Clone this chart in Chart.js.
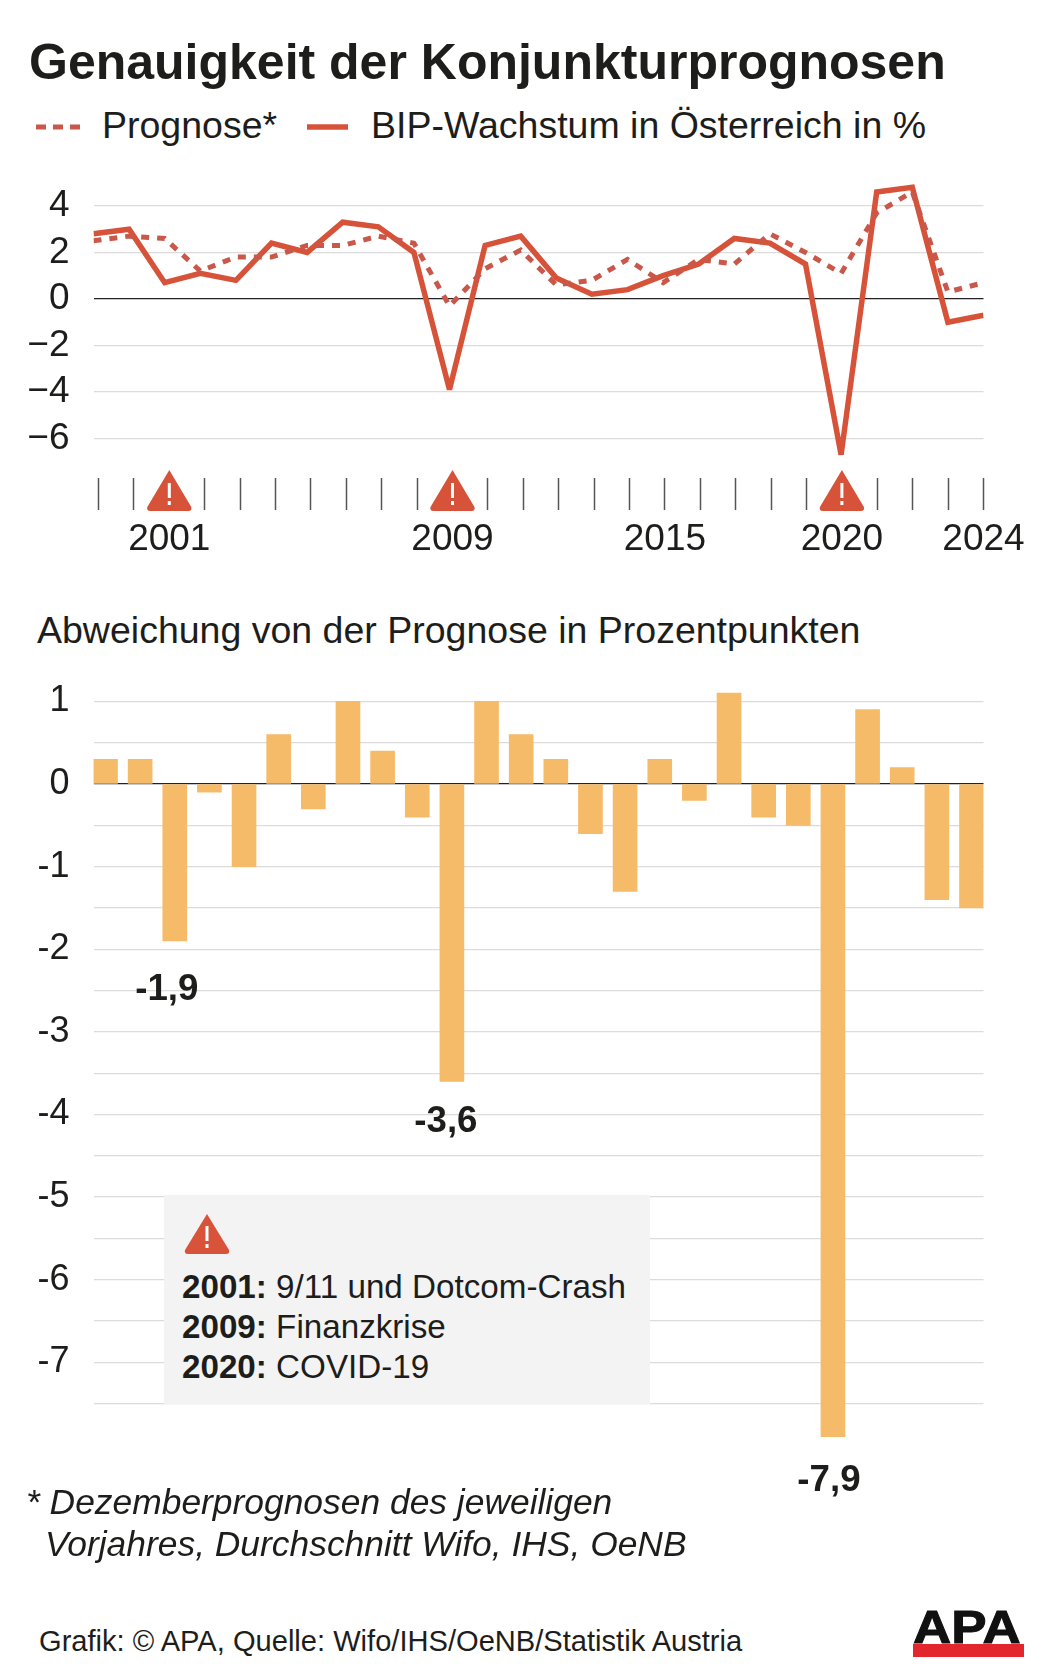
<!DOCTYPE html>
<html lang="de">
<head>
<meta charset="utf-8">
<title>Genauigkeit der Konjunkturprognosen</title>
<script src="https://cdn.jsdelivr.net/npm/chart.js@4/dist/chart.umd.min.js"></script>
<style>
  html, body { margin: 0; padding: 0; background: #fff; }
  body { position: relative; width: 1041px; height: 1670px; overflow: hidden; font-family: "Liberation Sans", Arial, sans-serif; color: #1d1d1b; }
  .t { position: absolute; white-space: nowrap; line-height: 1; }
  canvas { position: absolute; left: 0; }
  #infoBox { position: absolute; left: 164px; top: 1195px; width: 486px; height: 209px; background: #f3f3f3; }
  #infoBox svg { position: absolute; left: 20px; top: 18px; }
  #infoBox .lines { position: absolute; left: 18px; top: 72px; font-size: 33.2px; line-height: 40px; white-space: nowrap; }
  #logo { position: absolute; left: 913px; top: 1610px; width: 111px; height: 47px; }
  #logo .bar { position: absolute; left: 0; top: 34px; width: 111px; height: 13px; background: #e3262e; }
  #logo .txt { position: absolute; left: 0; top: -6px; font-size: 46px; line-height: 46px; font-weight: bold; color: #111; transform-origin: left top; transform: scaleX(1.15); -webkit-text-stroke: 1px #111; }
</style>
</head>
<body>
  <div class="t" style="left:29px;top:36.5px;font-size:50px;font-weight:bold">Genauigkeit der Konjunkturprognosen</div>

  <svg style="position:absolute;left:36px;top:120px" width="45" height="14"><line x1="0" y1="7" x2="45" y2="7" stroke="#c9584a" stroke-width="5" stroke-dasharray="10 7"/></svg>
  <div class="t" style="left:102px;top:107px;font-size:37.5px">Prognose*</div>
  <svg style="position:absolute;left:307px;top:120px" width="41" height="14"><line x1="0" y1="7" x2="41" y2="7" stroke="#d6533a" stroke-width="5.5"/></svg>
  <div class="t" style="left:371px;top:107px;font-size:37.5px">BIP-Wachstum in Österreich in %</div>

  <canvas id="growthChart" width="1041" height="570" style="top:0"></canvas>

  <div class="t" style="left:37px;top:612px;font-size:37.5px">Abweichung von der Prognose in Prozentpunkten</div>

  <canvas id="devChart" width="1041" height="900" style="top:600px"></canvas>

  <div id="infoBox">
    <svg width="46" height="42" viewBox="0 0 46 42"><path d="M23 1 L45 37 Q46 41 42 41 L4 41 Q0 41 1 37 Z" fill="#d9533a"/><rect x="21.5" y="13" width="3" height="15" fill="#fff"/><rect x="21.5" y="31" width="3" height="4" fill="#fff"/></svg>
    <div class="lines"><b>2001:</b> 9/11 und Dotcom-Crash<br><b>2009:</b> Finanzkrise<br><b>2020:</b> COVID-19</div>
  </div>

  <div class="t" style="left:26px;top:1485px;font-size:35.4px;font-style:italic">* Dezemberprognosen des jeweiligen</div>
  <div class="t" style="left:45px;top:1527px;font-size:35.4px;font-style:italic">Vorjahres, Durchschnitt Wifo, IHS, OeNB</div>
  <div class="t" style="left:39px;top:1627px;font-size:29.1px">Grafik: © APA, Quelle: Wifo/IHS/OeNB/Statistik Austria</div>

  <div id="logo"><div class="txt">APA</div><div class="bar"></div></div>

<script>
// Werte
const years = [1999, 2000, 2001, 2002, 2003, 2004, 2005, 2006, 2007, 2008, 2009, 2010, 2011, 2012, 2013, 2014, 2015, 2016, 2017, 2018, 2019, 2020, 2021, 2022, 2023, 2024];
const gdpGrowth = [2.8, 3.0, 0.7, 1.1, 0.8, 2.4, 2.0, 3.3, 3.1, 2.0, -3.9, 2.3, 2.7, 0.9, 0.2, 0.4, 1.0, 1.5, 2.6, 2.4, 1.5, -6.7, 4.6, 4.8, -1.0, -0.7];
const forecast = [2.5, 2.7, 2.6, 1.2, 1.8, 1.8, 2.3, 2.3, 2.7, 2.4, -0.3, 1.3, 2.1, 0.6, 0.8, 1.7, 0.7, 1.7, 1.5, 2.8, 2.0, 1.1, 3.7, 4.6, 0.3, 0.7];
const deviation = [0.3, 0.3, -1.9, -0.1, -1.0, 0.6, -0.3, 1.0, 0.4, -0.4, -3.6, 1.0, 0.6, 0.3, -0.6, -1.3, 0.3, -0.2, 1.1, -0.4, -0.5, -7.9, 0.9, 0.2, -1.4, -1.5];
const yearLabels = [2001, 2009, 2015, 2020, 2024];
const crisisYears = [2001, 2009, 2020];
const labelledYears = [2001, 2009, 2020];

const FONT = '"Liberation Sans", Arial, sans-serif';
const TEXT = '#1d1d1b';
const RED = '#d6533a';

function xy(values) {
    return values.map((v, i) => ({ x: years[i], y: v }));
}

function gridColor(ctx) {
    return ctx.tick.value === 0 ? '#222' : '#dcdcdc';
}

// Warndreiecke auf der Zeitachse
const warnIcons = {
    id: 'warnIcons',
    afterDraw(chart) {
        const c = chart.ctx;
        const scale = chart.scales.xTicks;
        crisisYears.forEach(year => {
            const x = scale.getPixelForValue(year);
            c.save();
            c.translate(x - 23, 470);
            c.fillStyle = RED;
            c.beginPath();
            c.moveTo(23, 0);
            c.lineTo(45, 37);
            c.quadraticCurveTo(46, 41, 42, 41);
            c.lineTo(4, 41);
            c.quadraticCurveTo(0, 41, 1, 37);
            c.closePath();
            c.fill();
            c.fillStyle = '#fff';
            c.fillRect(21.5, 13, 3, 15);
            c.fillRect(21.5, 31, 3, 4);
            c.restore();
        });
    }
};

// Spitzen der Linie nicht zu lang werden lassen
const lineJoins = {
    id: 'lineJoins',
    beforeDatasetsDraw(chart) {
        chart.ctx.miterLimit = 3;
    }
};

// Beschriftung der drei groessten Abweichungen
const barLabels = {
    id: 'barLabels',
    afterDatasetsDraw(chart) {
        const c = chart.ctx;
        const bars = chart.getDatasetMeta(0).data;
        const shift = { 2001: [-8, 59], 2009: [-6, 51], 2020: [-4, 54] };
        c.save();
        c.font = 'bold 36.7px ' + FONT;
        c.fillStyle = TEXT;
        c.textAlign = 'center';
        labelledYears.forEach(year => {
            const i = years.indexOf(year);
            const text = String(deviation[i]).replace('.', ',');
            c.fillText(text, bars[i].x + shift[year][0], bars[i].y + shift[year][1]);
        });
        c.restore();
    }
};

new Chart(document.getElementById('growthChart'), {
    type: 'line',
    plugins: [warnIcons, lineJoins],
    data: {
        datasets: [
            { label: 'BIP-Wachstum in Österreich in %', data: xy(gdpGrowth), xAxisID: 'x', borderColor: RED, borderWidth: 5.5, pointRadius: 0, tension: 0, order: 2 },
            { label: 'Prognose*', data: xy(forecast), xAxisID: 'x', borderColor: '#c9584a', borderWidth: 5, borderDash: [8, 8], pointRadius: 0, tension: 0, order: 1 }
        ]
    },
    options: {
        responsive: false,
        animation: false,
        layout: { padding: { left: 0, right: 57.5, top: 178, bottom: 0 } },
        plugins: { legend: { display: false }, tooltip: { enabled: false } },
        scales: {
            x: { type: 'linear', axis: 'x', display: false, min: 1999, max: 2024 },
            xTicks: {
                type: 'linear', axis: 'x', position: 'bottom', min: 1998.859, max: 2024,
                afterFit(scale) { scale.height = 570 - 478; },
                border: { display: false },
                grid: { drawOnChartArea: false, drawTicks: true, tickLength: 32, tickColor: '#555', tickWidth: 1.5 },
                ticks: {
                    stepSize: 1, includeBounds: false, autoSkip: false, maxRotation: 0, padding: 8,
                    color: TEXT, font: { family: FONT, size: 37 },
                    callback: v => yearLabels.includes(v) ? String(v) : ''
                }
            },
            y: {
                min: -7.7, max: 5.2,
                afterFit(scale) { scale.width = 93.5; },
                border: { display: false },
                grid: { color: gridColor, lineWidth: 1.2, drawTicks: false },
                ticks: {
                    stepSize: 2, includeBounds: false, padding: 24,
                    color: TEXT, font: { family: FONT, size: 37 },
                    callback: v => String(v).replace('-', '\u2212')
                }
            }
        }
    }
});

new Chart(document.getElementById('devChart'), {
    type: 'bar',
    plugins: [barLabels],
    data: {
        datasets: [
            { label: 'Abweichung von der Prognose in Prozentpunkten', data: xy(deviation), backgroundColor: '#f6bb69', barThickness: 24 }
        ]
    },
    options: {
        responsive: false,
        animation: false,
        layout: { padding: { left: 0, right: 57.5, top: 84.9, bottom: 59.3 } },
        plugins: { legend: { display: false }, tooltip: { enabled: false } },
        scales: {
            x: { type: 'linear', offset: false, display: false, min: 1998.654, max: 2024.346 },
            y: {
                min: -7.95, max: 1.2,
                afterFit(scale) { scale.width = 93.5; },
                border: { display: false },
                grid: { color: gridColor, lineWidth: 1.2, drawTicks: false },
                ticks: {
                    stepSize: 0.5, includeBounds: false, autoSkip: false, padding: 24,
                    color: TEXT, font: { family: FONT, size: 36 },
                    callback: v => Number.isInteger(v) ? String(v) : ''
                }
            }
        }
    }
});
</script>
</body>
</html>
